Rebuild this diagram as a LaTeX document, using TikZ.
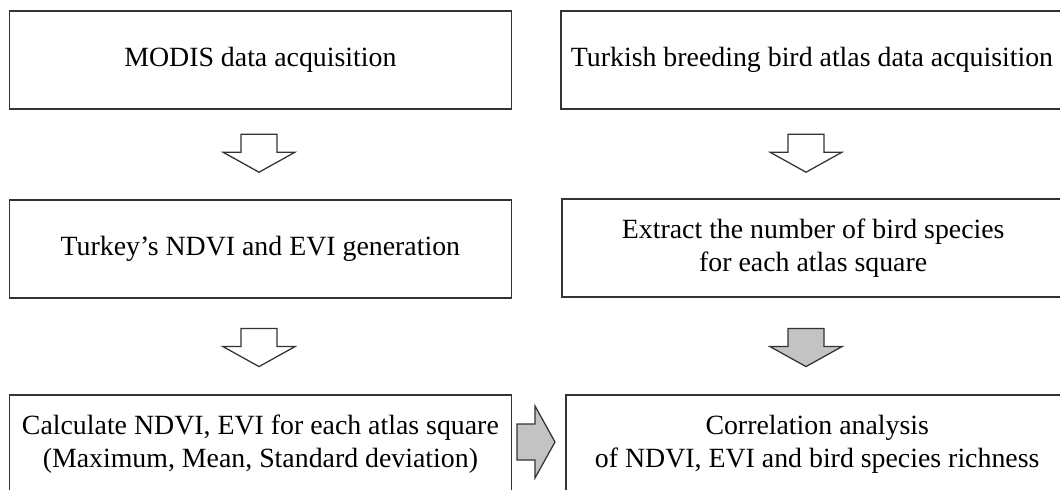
\documentclass[tikz,border=0pt]{standalone}
\usepackage{fontspec}
\setmainfont{Liberation Serif}
\usetikzlibrary{positioning}
\definecolor{edge}{HTML}{333333}
\definecolor{shade}{HTML}{C3C3C3}

\begin{document}
\begin{tikzpicture}[font=\fontsize{19.8}{23.5}\selectfont,
          box/.style={draw=edge, line width=1.2pt, align=center, inner sep=0pt,
                      minimum width=12.55cm, minimum height=2.45cm},
          blk/.style={draw=edge, line width=0.9pt, fill=white, line join=miter},
          pics/blockarrow/.style={code={
              \draw[blk, #1] (-0.45,0.475) -- (0.45,0.475) -- (0.45,0.025)
                  -- (0.9,0.025) -- (0,-0.475) -- (-0.9,0.025) -- (-0.45,0.025) -- cycle;}}]
        \useasboundingbox (0,0) rectangle (26.5,-12.25);
        % left column: remote sensing side
        \node[box] (modis) at (6.51,-1.5) {MODIS data acquisition};
        \node[box] (index) at (6.51,-6.22) {Turkey’s NDVI and EVI generation};
        \node[box] (calc) at (6.51,-11.1)
             {Calculate NDVI, EVI for each atlas square\\(Maximum, Mean, Standard deviation)};
        % right column: atlas side
        \node[box] (atlas) at (20.3,-1.5) {Turkish breeding bird atlas data acquisition};
        \node[box] (extract) at (20.33,-6.2)
             {Extract the number of bird species\\for each atlas square};
        \node[box] (corr) at (20.43,-11.1)
             {Correlation analysis\\of NDVI, EVI and bird species richness};
        % block arrows between the steps
        \pic (a1) at (6.475,-3.83) {blockarrow};
        \pic (a2) at (6.475,-8.69) {blockarrow};
        \pic (b1) at (20.15,-3.83) {blockarrow};
        \pic (b2) at (20.15,-8.69) {blockarrow={fill=shade}};
        \pic[rotate=90] (c1) at (13.4,-11.05) {blockarrow={fill=shade}};
      \end{tikzpicture}
\end{document}
